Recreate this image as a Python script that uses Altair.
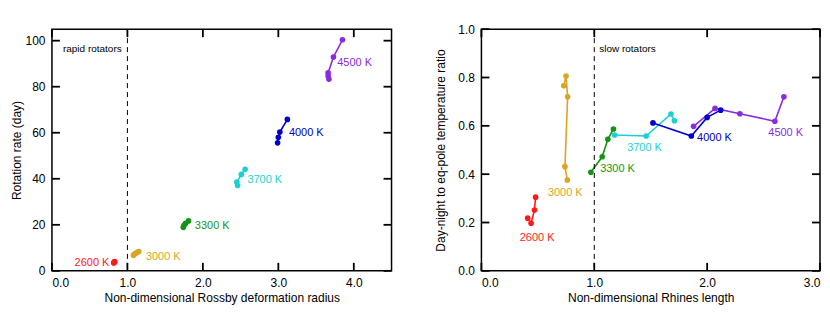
import altair as alt
import pandas as pd

FONT = "Liberation Sans"

series = ["2600 K", "3000 K", "3300 K", "3700 K", "4000 K", "4500 K"]
colors = ["#ff1a1a", "#daa520", "#149414", "#1ccfd2", "#0000cc", "#8a2be2"]

# Left panel: Rossby deformation radius vs rotation rate
left_x = {
    "2600 K": [0.82, 0.82, 0.83, 0.83],
    "3000 K": [1.08, 1.09, 1.11, 1.13, 1.15],
    "3300 K": [1.74, 1.75, 1.77, 1.81],
    "3700 K": [2.46, 2.45, 2.51, 2.56],
    "4000 K": [2.99, 3.00, 3.02, 3.12],
    "4500 K": [3.67, 3.66, 3.66, 3.73, 3.85],
}
left_y = {
    "2600 K": [3.4, 3.6, 3.8, 4.0],
    "3000 K": [6.8, 7.2, 7.6, 8.0, 8.4],
    "3300 K": [18.9, 19.8, 20.6, 21.7],
    "3700 K": [37.1, 38.6, 41.9, 44.1],
    "4000 K": [55.6, 58.0, 60.3, 65.8],
    "4500 K": [83.3, 84.6, 86.0, 92.9, 100.4],
}
# Right panel: Rhines length vs day-night to eq-pole temperature ratio
right_x = {
    "2600 K": [0.41, 0.44, 0.47, 0.48],
    "3000 K": [0.73, 0.75, 0.764, 0.74, 0.761],
    "3300 K": [0.97, 1.07, 1.12, 1.17],
    "3700 K": [1.18, 1.46, 1.68, 1.71],
    "4000 K": [1.52, 1.86, 2.00, 2.12],
    "4500 K": [1.88, 2.07, 2.29, 2.60, 2.68],
}
right_y = {
    "2600 K": [0.218, 0.197, 0.252, 0.305],
    "3000 K": [0.766, 0.806, 0.720, 0.431, 0.376],
    "3300 K": [0.408, 0.472, 0.544, 0.587],
    "3700 K": [0.562, 0.558, 0.649, 0.621],
    "4000 K": [0.612, 0.558, 0.635, 0.665],
    "4500 K": [0.598, 0.672, 0.650, 0.619, 0.720],
}

left_xticks = [0, 1, 2, 3, 4]
left_yticks = [0, 20, 40, 60, 80, 100]
right_xticks = [0, 1, 2, 3]
right_yticks = [0, 0.2, 0.4, 0.6, 0.8, 1.0]

left_label_x = [0.30, 1.245, 1.894, 2.59, 3.14, 3.78]
left_label_y = [3.6, 6.2, 19.5, 39.6, 60.0, 90.2]
right_label_x = [0.493, 0.743, 1.206, 1.445, 2.065, 2.696]
right_label_y = [0.138, 0.321, 0.420, 0.510, 0.551, 0.569]

left_note = ("rapid rotators", 0.146, 96.5)
right_note = ("slow rotators", 1.044, 0.917)
threshold = 1.0

TICK = 8  # inward tick length in pixels


def to_df(xs, ys):
    rows = []
    for s in series:
        for i, (a, b) in enumerate(zip(xs[s], ys[s])):
            rows.append({"series": s, "ord": i, "x": a, "y": b})
    return pd.DataFrame(rows)


color_scale = alt.Scale(domain=series, range=colors)


def panel(df, lab_x, lab_y, lab_align, note, xdom, ydom, xticks, yticks,
          xfmt, yfmt, xtitle, ytitle, w, h, ytitle_pad):
    xs = alt.Scale(domain=xdom, nice=False, zero=False)
    ys = alt.Scale(domain=ydom, nice=False, zero=False)
    xb = alt.Axis(orient="bottom", values=xticks, format=xfmt, title=xtitle,
                  ticks=False, domain=False, grid=False,
                  labelPadding=7, titlePadding=4)
    yl = alt.Axis(orient="left", values=yticks, format=yfmt, title=ytitle,
                  ticks=False, domain=False, grid=False,
                  labelPadding=7, titlePadding=ytitle_pad)

    def X(f):
        return alt.X(f, scale=xs, axis=xb, title=xtitle)

    def Y(f):
        return alt.Y(f, scale=ys, axis=yl, title=ytitle)

    col = alt.Color("series:N", scale=color_scale, legend=None)

    lines = alt.Chart(df).mark_line(strokeWidth=1.6).encode(
        x=X("x:Q"), y=Y("y:Q"), color=col, detail="series:N", order="ord:Q")
    pts = alt.Chart(df).mark_circle(size=32, opacity=1).encode(
        x=X("x:Q"), y=Y("y:Q"), color=col)
    rule = alt.Chart(pd.DataFrame({"x": [threshold]})).mark_rule(
        color="black", strokeDash=[5, 4], strokeWidth=1
    ).encode(x=X("x:Q"))

    # inward tick marks on all four sides, from the tick value arrays
    dy = (ydom[1] - ydom[0]) * TICK / h
    dx = (xdom[1] - xdom[0]) * TICK / w
    xt_df = pd.DataFrame({
        "x": xticks * 2,
        "y": [ydom[0]] * len(xticks) + [ydom[1]] * len(xticks),
        "y2": [ydom[0] + dy] * len(xticks) + [ydom[1] - dy] * len(xticks),
    })
    yt_df = pd.DataFrame({
        "y": yticks * 2,
        "x": [xdom[0]] * len(yticks) + [xdom[1]] * len(yticks),
        "x2": [xdom[0] + dx] * len(yticks) + [xdom[1] - dx] * len(yticks),
    })
    tstyle = dict(color="#000000", strokeWidth=1.8, opacity=1)
    txt = alt.Chart(xt_df).mark_rule(**tstyle).encode(
        x=X("x:Q"), y=Y("y:Q"), y2="y2:Q")
    tyt = alt.Chart(yt_df).mark_rule(**tstyle).encode(
        x=X("x:Q"), x2="x2:Q", y=Y("y:Q"))

    labdf = pd.DataFrame({"series": series, "x": lab_x, "y": lab_y})
    labels = alt.Chart(labdf).mark_text(
        font=FONT, fontSize=11, align=lab_align, baseline="middle"
    ).encode(x=X("x:Q"), y=Y("y:Q"), text="series:N", color=col)
    notedf = pd.DataFrame({"t": [note[0]], "x": [note[1]], "y": [note[2]]})
    notes = alt.Chart(notedf).mark_text(
        font=FONT, fontSize=10, align="left", baseline="middle", color="black"
    ).encode(x=X("x:Q"), y=Y("y:Q"), text="t:N")
    return alt.layer(lines, rule, pts, labels, notes, txt, tyt).properties(
        width=w, height=h)


left = panel(to_df(left_x, left_y), left_label_x, left_label_y, "left", left_note,
             [0, 4.5], [0, 105], left_xticks, left_yticks,
             ".1f", "d", "Non-dimensional Rossby deformation radius",
             "Rotation rate (day)", 340, 242, 1)
right = panel(to_df(right_x, right_y), right_label_x, right_label_y, "center", right_note,
              [0, 3], [0, 1], right_xticks, right_yticks,
              ".1f", ".1f", "Non-dimensional Rhines length",
              "Day-night to eq-pole temperature ratio", 339, 242, 10)

chart = alt.hconcat(left, right, spacing=40).properties(
    padding={"left": 2, "top": 14, "right": 0, "bottom": 2},
    background="white",
).configure_view(
    stroke="black", strokeWidth=1.5
).configure_axis(
    labelFont=FONT, titleFont=FONT, labelFontSize=12, titleFontSize=12,
    labelColor="black", titleColor="black", titleFontWeight="normal"
)

chart.save("out.html", embed_options={"renderer": "svg", "actions": False})
